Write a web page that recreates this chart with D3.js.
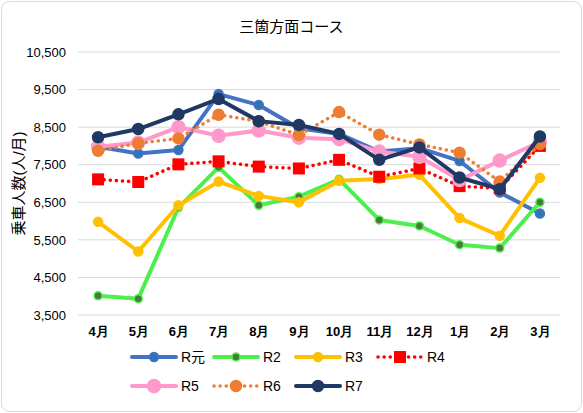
<!DOCTYPE html>
<html>
<head>
<meta charset="utf-8">
<style>
  body { margin: 0; background: #fff; font-family: "Liberation Sans", "Noto Sans CJK JP", sans-serif; }
</style>
</head>
<body>
<div id="chart"></div>
<script src="https://cdn.jsdelivr.net/npm/d3@7"></script>
<script>
const months = ['4月','5月','6月','7月','8月','9月','10月','11月','12月','1月','2月','3月'];
const yTicks = [3500, 4500, 5500, 6500, 7500, 8500, 9500, 10500];
const rGen  = [7980, 7800, 7890, 9380, 9090, 8470, 8320, 7850, 7940, 7600, 6760, 6200];
const r2    = [4010, 3935, 6360, 7430, 6420, 6650, 7110, 6030, 5870, 5370, 5280, 6500];
const r3    = [5980, 5190, 6420, 7050, 6670, 6500, 7070, 7120, 7230, 6080, 5610, 7150];
const r4    = [7110, 7040, 7510, 7590, 7450, 7400, 7630, 7180, 7400, 6930, 6870, 8000];
const r5    = [7980, 8090, 8500, 8270, 8410, 8220, 8180, 7850, 7710, 7090, 7610, 8110];
const r6    = [7870, 8070, 8200, 8830, 8650, 8290, 8900, 8300, 8040, 7820, 7050, 8050];
const r7    = [8230, 8450, 8840, 9250, 8660, 8560, 8320, 7630, 7960, 7160, 6850, 8250];

const series = [
  {name: 'R元', values: rGen, color: '#4472c4', width: 4, dash: null, marker: 'circle', r: 4.5, fill: '#2e75b6'},
  {name: 'R2', values: r2, color: '#4cf04c', width: 4, dash: null, marker: 'circle', r: 4, fill: '#4a7a3a'},
  {name: 'R3', values: r3, color: '#ffc000', width: 4, dash: null, marker: 'circle', r: 4.5, fill: '#ffc000'},
  {name: 'R4', values: r4, color: '#ff0000', width: 3.5, dash: '0.1,6', marker: 'square', r: 6, fill: '#ff0000'},
  {name: 'R5', values: r5, color: '#ff99cc', width: 4, dash: null, marker: 'circle', r: 6.5, fill: '#ff99cc'},
  {name: 'R6', values: r6, color: '#ed7d31', width: 3.5, dash: '0.1,6', marker: 'circle', r: 5.5, fill: '#ed7d31'},
  {name: 'R7', values: r7, color: '#203864', width: 4, dash: null, marker: 'circle', r: 5.5, fill: '#203864'}
];

const W = 583, H = 413;
const margin = {top: 52, right: 23, bottom: 98, left: 78};
const width = W - margin.left - margin.right;
const height = H - margin.top - margin.bottom;

const svg = d3.select('#chart').append('svg').attr('width', W).attr('height', H);
svg.append('rect').attr('x', 1.5).attr('y', 1.5).attr('width', W - 3).attr('height', H - 3)
  .attr('rx', 8).attr('fill', '#fff').attr('stroke', '#d9d9d9');

svg.append('text').attr('x', W / 2).attr('y', 32).attr('text-anchor', 'middle')
  .attr('font-size', 15).attr('fill', '#000').text('三箇方面コース');

svg.append('text').attr('transform', 'translate(24,' + (margin.top + height / 2) + ') rotate(-90)')
  .attr('text-anchor', 'middle').attr('font-size', 15).text('乗車人数(人/月)');

const g = svg.append('g').attr('transform', 'translate(' + margin.left + ',' + margin.top + ')');

const x = d3.scalePoint().domain(months).range([0, width]).padding(0.5);
const y = d3.scaleLinear().domain([3500, 10500]).range([height, 0]);

g.append('g').selectAll('line').data(yTicks).join('line')
  .attr('x1', 0).attr('x2', width).attr('y1', d => y(d)).attr('y2', d => y(d))
  .attr('stroke', '#d9d9d9');

const yAxis = g.append('g').call(d3.axisLeft(y).tickValues(yTicks).tickFormat(d3.format(',')).tickSize(0).tickPadding(12));
yAxis.select('.domain').remove();
yAxis.selectAll('text').attr('font-size', 13).attr('fill', '#000');

const xAxis = g.append('g').attr('transform', 'translate(0,' + height + ')')
  .call(d3.axisBottom(x).tickSize(0).tickPadding(12));
xAxis.select('.domain').remove();
xAxis.selectAll('text').attr('font-size', 13).attr('fill', '#000').attr('font-weight', 'bold');

const line = d3.line().x((d, i) => x(months[i])).y(d => y(d));

function drawMarker(sel, s, cx, cy) {
  if (s.marker === 'square') {
    sel.append('rect').attr('x', cx - s.r).attr('y', cy - s.r).attr('width', s.r * 2).attr('height', s.r * 2).attr('fill', s.fill);
  } else {
    sel.append('circle').attr('cx', cx).attr('cy', cy).attr('r', s.r).attr('fill', s.fill)
      .attr('stroke', s.color).attr('stroke-width', 1.5);
  }
}

series.forEach(s => {
  g.append('path').datum(s.values).attr('d', line).attr('fill', 'none')
    .attr('stroke', s.color).attr('stroke-width', s.width)
    .attr('stroke-dasharray', s.dash).attr('stroke-linecap', 'round').attr('stroke-linejoin', 'round');
  const mg = g.append('g');
  s.values.forEach((v, i) => drawMarker(mg, s, x(months[i]), y(v)));
});

// legend
const legPos = [[132, 357], [214, 357], [296, 357], [378, 357], [132, 386], [214, 386], [296, 386]];
series.forEach((s, i) => {
  const [lx, ly] = legPos[i];
  const lg = svg.append('g');
  lg.append('line').attr('x1', lx).attr('x2', lx + 44).attr('y1', ly).attr('y2', ly)
    .attr('stroke', s.color).attr('stroke-width', s.width).attr('stroke-dasharray', s.dash).attr('stroke-linecap', 'round');
  drawMarker(lg, s, lx + 22, ly);
  lg.append('text').attr('x', lx + 49).attr('y', ly + 5).attr('font-size', 14).text(s.name);
});
</script>
</body>
</html>
